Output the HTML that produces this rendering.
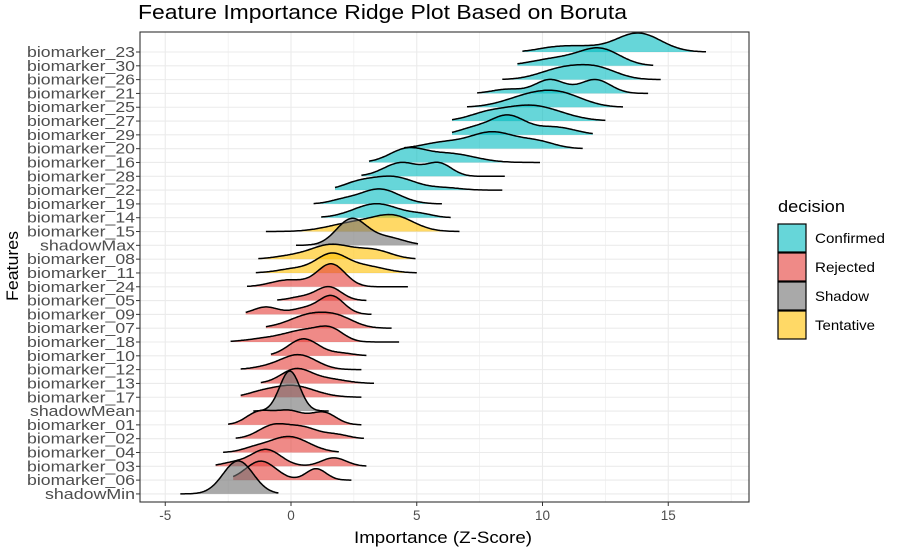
<!DOCTYPE html>
<html><head><meta charset="utf-8"><style>
body{margin:0;background:#fff;}
svg text{font-family:"Liberation Sans",sans-serif;}
</style></head><body>
<svg id="s" width="899" height="552" xmlns="http://www.w3.org/2000/svg"></svg>
<script>
const S=document.getElementById('s');
const X0=291,K=25.15,L=140,R=749,T=32,B=502;
const px=v=>X0+K*v;
let h='';
h+=`<rect x="${L}" y="${T}" width="${R-L}" height="${B-T}" fill="#fff"/>`;
for(let v=-5;v<=17.5;v+=2.5){const x=px(v);if(x>L&&x<R)h+=`<line x1="${x}" y1="${T}" x2="${x}" y2="${B}" stroke="#ebebeb" stroke-width="${v%5==0?1.1:0.6}"/>`;}
const names=["biomarker_23","biomarker_30","biomarker_26","biomarker_21","biomarker_25","biomarker_27","biomarker_29","biomarker_20","biomarker_16","biomarker_28","biomarker_22","biomarker_19","biomarker_14","biomarker_15","shadowMax","biomarker_08","biomarker_11","biomarker_24","biomarker_05","biomarker_09","biomarker_07","biomarker_18","biomarker_10","biomarker_12","biomarker_13","biomarker_17","shadowMean","biomarker_01","biomarker_02","biomarker_04","biomarker_03","biomarker_06","shadowMin"];
const ry=i=>52+13.81*i;
const lw={shadowMax:95,shadowMean:105,shadowMin:90};
names.forEach((n,i)=>{h+=`<line x1="${L}" y1="${ry(i)}" x2="${R}" y2="${ry(i)}" stroke="#ebebeb" stroke-width="1.1"/>`;
h+=`<text x="135" y="${ry(i)+5}" font-size="14.5" fill="#4d4d4d" text-anchor="end" textLength="${lw[n]||108}" lengthAdjust="spacingAndGlyphs">${n}</text>`;});
const C={c:"#00BBC0",r:"#E43C37",s:"#707070",t:"#FFC000"};
const D=[
["c",9.2,16.5,19,[[13.8,0.9,1],[11.3,0.9,0.3],[10.2,0.6,0.1]]],
["c",9.0,14.4,18,[[12.3,0.8,1],[10.6,1.0,0.45]]],
["c",8.4,14.7,15,[[10.8,0.9,1],[12.2,0.8,0.95]]],
["c",7.4,14.2,14,[[10.3,0.6,1],[12.1,0.6,1],[8.6,0.6,0.3]]],
["c",7.0,13.2,17,[[9.5,1.0,0.8],[10.8,0.9,0.8]]],
["c",6.4,12.5,16,[[9.5,1.2,1],[7.7,0.7,0.3]]],
["c",6.4,12.0,20,[[8.6,0.7,1],[10.5,0.8,0.4],[7.2,0.6,0.3]]],
["c",4.5,11.6,17,[[8.0,0.9,1],[9.8,0.7,0.4],[6,0.8,0.35]]],
["c",3.1,9.9,15,[[4.6,0.7,1],[6.3,1.0,0.7]]],
["c",2.8,8.5,14,[[4.4,0.7,1],[5.9,0.5,0.9]]],
["c",1.75,8.4,14,[[4.0,0.9,1],[2.6,0.6,0.4],[6.2,0.6,0.15]]],
["c",0.9,6.0,15,[[3.5,0.8,1],[2,0.5,0.2]]],
["c",1.2,6.35,14,[[3.4,0.9,1],[5.2,0.5,0.2]]],
["t",-1.0,6.7,17,[[4.1,0.8,1],[2.5,1,0.6]]],
["s",0.2,5.05,27,[[2.4,0.6,1],[3.8,0.7,0.3]]],
["t",-1.3,4.95,15,[[1.6,0.8,1],[3.3,0.7,0.6],[0,0.7,0.2]]],
["t",-1.4,5.0,20,[[1.6,0.6,1],[2.9,0.8,0.4],[0.2,0.7,0.25]]],
["r",-1.75,4.65,23,[[1.6,0.55,1],[-0.1,0.7,0.3]]],
["r",-0.55,3.0,14,[[1.5,0.5,1],[0.4,0.5,0.25]]],
["r",-1.8,3.2,19,[[1.6,0.5,1],[-1.0,0.5,0.4],[0.5,0.5,0.3]]],
["r",-1.0,4.0,16,[[0.9,0.9,1],[2.0,0.6,0.4]]],
["r",-2.4,4.3,16,[[0.6,0.8,0.7],[1.6,0.5,0.6],[-1,0.8,0.2]]],
["r",-0.8,3.0,17,[[0.5,0.6,1],[2,0.5,0.15]]],
["r",-2.0,2.8,15,[[0.3,0.7,1],[-1,0.6,0.15]]],
["r",-1.2,3.3,15,[[0.2,0.6,1],[1.5,0.7,0.3]]],
["r",-2.0,2.8,12,[[0,0.9,1],[-1.3,0.5,0.2]]],
["s",-1.5,1.5,40,[[-0.05,0.4,1]]],
["r",-2.5,2.8,15,[[-1.3,0.5,0.6],[-0.1,0.6,0.7],[1.3,0.5,0.6]]],
["r",-2.2,2.9,15,[[-0.7,0.6,1],[0.5,0.6,0.8],[1.8,0.5,0.3]]],
["r",-2.7,1.9,16,[[-0.1,0.8,1],[-1.5,0.5,0.2]]],
["r",-3.0,3.0,17,[[-1.0,0.6,1],[1.7,0.5,0.5],[-2.3,0.5,0.2]]],
["r",-2.3,2.4,19,[[-1.2,0.6,1],[1.0,0.4,0.6]]],
["s",-4.4,-0.5,33,[[-2.1,0.6,1]]]
];
D.forEach((d,i)=>{const [c,a,b,hh,m]=d;const N=120;let pts=[],mx=0;
for(let k=0;k<=N;k++){const v=a+(b-a)*k/N;let f=0;m.forEach(([mu,sd,w])=>f+=w*Math.exp(-0.5*((v-mu)/sd)**2));pts.push([v,f]);if(f>mx)mx=f;}
const y0=ry(i);let line=pts.map(([v,f],k)=>(k?'L':'M')+px(v).toFixed(1)+','+(y0-f/mx*hh).toFixed(1)).join('');
h+=`<path d="${line}L${px(b).toFixed(1)},${y0}L${px(a).toFixed(1)},${y0}Z" fill="${C[c]}" fill-opacity="0.6"/>`;
h+=`<path d="${line}" fill="none" stroke="#000" stroke-width="1.5"/>`;});
h+=`<rect x="${L}" y="${T}" width="${R-L}" height="${B-T}" fill="none" stroke="#333" stroke-width="1.1"/>`;
[-5,0,5,10,15].forEach(v=>{const x=px(v);h+=`<line x1="${x}" y1="${B}" x2="${x}" y2="${B+4}" stroke="#333"/><text x="${x}" y="${B+18}" font-size="13.5" fill="#4d4d4d" text-anchor="middle">${v}</text>`;});
names.forEach((n,i)=>{h+=`<line x1="${L-4}" y1="${ry(i)}" x2="${L}" y2="${ry(i)}" stroke="#333"/>`;});
h+=`<text x="138" y="19" font-size="20" fill="#000" textLength="489" lengthAdjust="spacingAndGlyphs">Feature Importance Ridge Plot Based on Boruta</text>`;
h+=`<text x="443" y="543" font-size="17" fill="#000" text-anchor="middle" textLength="178" lengthAdjust="spacingAndGlyphs">Importance (Z-Score)</text>`;
h+=`<text transform="translate(18,266) rotate(-90)" font-size="17" fill="#000" text-anchor="middle" textLength="70" lengthAdjust="spacingAndGlyphs">Features</text>`;
h+=`<text x="778" y="212" font-size="17" fill="#000" textLength="67" lengthAdjust="spacingAndGlyphs">decision</text>`;
[["Confirmed","c",70],["Rejected","r",60],["Shadow","s",54],["Tentative","t",60]].forEach(([n,c,w],k)=>{const y=224+29*k;
h+=`<rect x="778" y="${y}" width="28" height="28" fill="${C[c]}" fill-opacity="0.6" stroke="#000" stroke-width="1.2"/><text x="815" y="${y+19}" font-size="14" fill="#000" textLength="${w}" lengthAdjust="spacingAndGlyphs">${n}</text>`;});
S.innerHTML=h;
</script>
</body></html>
